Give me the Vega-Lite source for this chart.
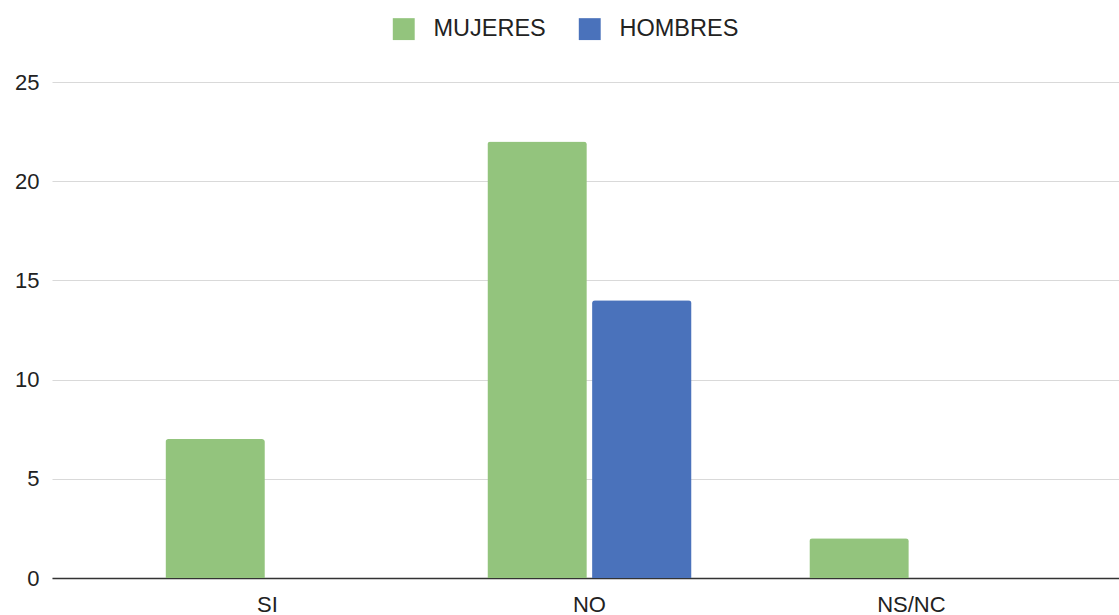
{
  "$schema": "https://vega.github.io/schema/vega-lite/v6.json",
  "width": 1067,
  "height": 496,
  "autosize": {"type": "none"},
  "padding": {"left": 52, "top": 82, "right": 0, "bottom": 37},
  "background": "white",
  "config": {
    "view": {"stroke": null},
    "font": "Liberation Sans"
  },
  "data": {
    "values": [
      {"respuesta": "SI", "sexo": "MUJERES", "valor": 7},
      {"respuesta": "SI", "sexo": "HOMBRES", "valor": 0},
      {"respuesta": "NO", "sexo": "MUJERES", "valor": 22},
      {"respuesta": "NO", "sexo": "HOMBRES", "valor": 14},
      {"respuesta": "NS/NC", "sexo": "MUJERES", "valor": 2},
      {"respuesta": "NS/NC", "sexo": "HOMBRES", "valor": 0}
    ]
  },
  "mark": {"type": "bar", "cornerRadiusTopLeft": 3, "cornerRadiusTopRight": 3},
  "encoding": {
    "x": {
      "field": "respuesta",
      "type": "nominal",
      "sort": ["SI", "NO", "NS/NC"],
      "scale": {"paddingInner": 0.366, "paddingOuter": 0.34, "align": 0.518},
      "axis": {
        "title": null,
        "labelAngle": 0,
        "labelFontSize": 22,
        "labelColor": "#222222",
        "labelPadding": 16,
        "ticks": false,
        "domainColor": "#333333",
        "domainWidth": 1.5,
        "grid": false
      }
    },
    "xOffset": {
      "field": "sexo",
      "type": "nominal",
      "sort": ["MUJERES", "HOMBRES"],
      "scale": {"paddingInner": 0.05}
    },
    "y": {
      "field": "valor",
      "type": "quantitative",
      "scale": {"domain": [0, 25]},
      "axis": {
        "title": null,
        "values": [0, 5, 10, 15, 20, 25],
        "labelFontSize": 22,
        "labelColor": "#222222",
        "labelPadding": 13,
        "ticks": false,
        "domain": false,
        "gridColor": "#d9d9d9",
        "gridWidth": 1
      }
    },
    "color": {
      "field": "sexo",
      "type": "nominal",
      "sort": ["MUJERES", "HOMBRES"],
      "scale": {"domain": ["MUJERES", "HOMBRES"], "range": ["#93c47d", "#4a72bb"]},
      "legend": {
        "title": null,
        "orient": "none",
        "direction": "horizontal",
        "legendX": 340,
        "legendY": -65,
        "symbolType": "square",
        "symbolSize": 480,
        "symbolStrokeWidth": 0,
        "labelFontSize": 23.5,
        "labelColor": "#222222",
        "labelOffset": 18,
        "columnPadding": 32
      }
    }
  }
}
